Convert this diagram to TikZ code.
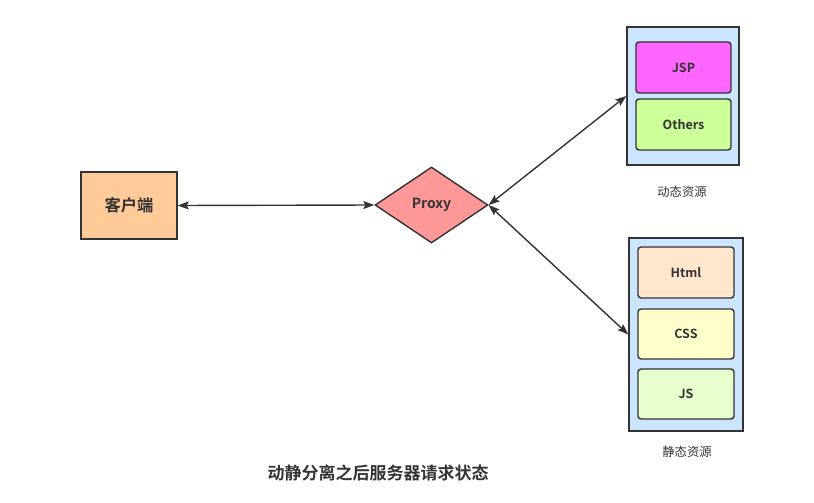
\documentclass[tikz,border=0pt]{standalone}
\usepackage{fontspec}
\setmainfont{Noto Sans CJK SC}
\newfontfamily\cjkbold{Noto Sans CJK SC Bold}
\usetikzlibrary{shapes.geometric,arrows.meta}
\definecolor{lineC}{HTML}{333333}
\definecolor{clientC}{HTML}{FFCC99}
\definecolor{proxyC}{HTML}{FF9999}
\definecolor{contC}{HTML}{CCE5FF}
\definecolor{jspC}{HTML}{FF66FF}
\definecolor{othC}{HTML}{CCFF99}
\definecolor{htmlC}{HTML}{FFE6CC}
\definecolor{cssC}{HTML}{FFFFCC}
\definecolor{jsC}{HTML}{E6FFCC}
\begin{document}
\begin{tikzpicture}[x=1pt,y=-1pt,
  every node/.style={text=lineC},
  shapebox/.style={draw=lineC,line width=1.4pt,inner sep=0pt,font=\cjkbold\fontsize{12.5}{14}\selectfont},
  inbox/.style={shapebox,rounded corners=3pt,minimum width=95pt,minimum height=51pt},
  cont/.style={draw=lineC,line width=1.4pt,fill=contC,inner sep=0pt},
  conn/.style={draw=lineC,line width=1.4pt,{Stealth[length=11pt,width=8pt,inset=2pt]}-{Stealth[length=11pt,width=8pt,inset=2pt]}},
  caption/.style={font=\fontsize{12.3}{14}\selectfont}]
\useasboundingbox (0,0) rectangle (814,503);
\node[shapebox,fill=clientC,minimum width=96pt,minimum height=67pt,font=\cjkbold\fontsize{16.3}{18}\selectfont] (client) at (129,205.5) {客户端};
\node[shapebox,diamond,fill=proxyC,minimum width=113pt,minimum height=76pt,font=\cjkbold\fontsize{14}{16}\selectfont] (proxy) at (431.5,205) {Proxy};
\node[cont,minimum width=112pt,minimum height=138pt] (dyn) at (683,96) {};
\node[inbox,fill=jspC] (jsp) at (683.5,67.5) {JSP};
\node[inbox,fill=othC] (oth) at (683.5,124.5) {Others};
\node[caption] (dynlab) at (682,192) {动态资源};
\node[cont,minimum width=114pt,minimum height=193pt] (stat) at (686,334.5) {};
\node[inbox,fill=htmlC,minimum width=96pt] (html) at (686,272.5) {Html};
\node[inbox,fill=cssC,minimum width=96pt,minimum height=50pt] (css) at (686,334) {CSS};
\node[inbox,fill=jsC,minimum width=96pt,minimum height=50pt] (js) at (686,394) {JS};
\node[caption] (statlab) at (687,452) {静态资源};
\node[font=\cjkbold\fontsize{17}{19}\selectfont] (title) at (378,473) {动静分离之后服务器请求状态};
\draw[conn] (client.east) -- (proxy.west);
\draw[conn] (proxy.east) -- (dyn.west);
\draw[conn] (proxy.east) -- (stat.west);
\end{tikzpicture}
\end{document}
